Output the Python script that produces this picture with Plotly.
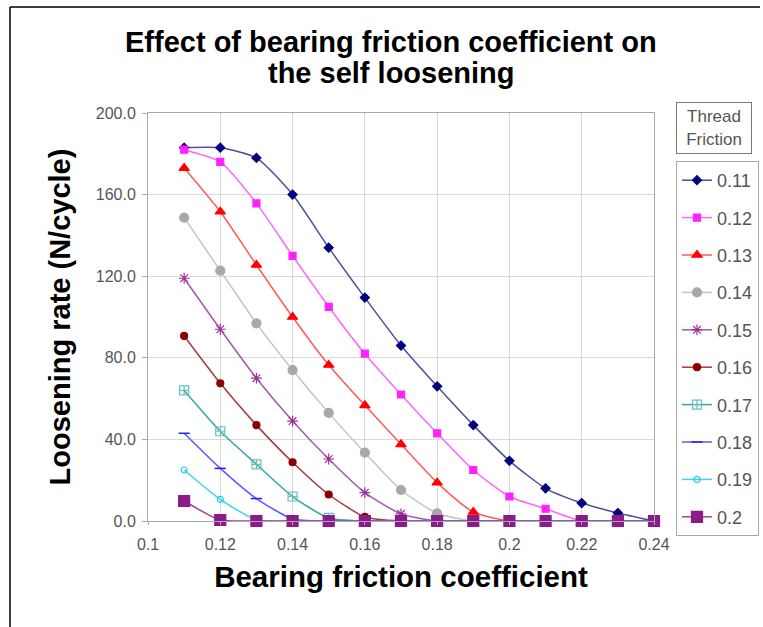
import plotly.graph_objects as go

bearing = [0.11, 0.12, 0.13, 0.14, 0.15, 0.16, 0.17, 0.18, 0.19, 0.20, 0.21, 0.22, 0.23, 0.24]

thread_labels = ["0.11", "0.12", "0.13", "0.14", "0.15", "0.16", "0.17", "0.18", "0.19", "0.2"]

s011 = [183, 183, 178, 160, 134, 109.5, 86, 66, 47, 29.5, 16, 8.8, 3.9, 0]
s012 = [182, 176, 155.7, 130, 105, 82, 62, 43, 25, 12, 6, 0, 0, 0]
s013 = [173, 151.6, 125.5, 100, 76.5, 56.7, 37.6, 18.8, 4.4, 0, 0, 0, 0, 0]
s014 = [148.7, 122.7, 96.9, 74, 53, 33.5, 15.2, 3.8, 0, 0, 0, 0, 0, 0]
s015 = [119, 94, 70, 49, 30.4, 13.9, 3.5, 0, 0, 0, 0, 0, 0, 0]
s016 = [90.7, 67.5, 47, 28.8, 13, 2, 0, 0, 0, 0, 0, 0, 0, 0]
s017 = [64, 44, 27.8, 12, 1.5, 0, 0, 0, 0, 0, 0, 0, 0, 0]
s018 = [43, 25.8, 11, 1, 0, 0, 0, 0, 0, 0, 0, 0, 0, 0]
s019 = [25, 10.6, 0.5, 0, 0, 0, 0, 0, 0, 0, 0, 0, 0, 0]
s020 = [9.8, 0.5, 0, 0, 0, 0, 0, 0, 0, 0, 0, 0, 0, 0]

series = [s011, s012, s013, s014, s015, s016, s017, s018, s019, s020]

line_colors = ["#4e4e9a", "#ff66ff", "#ff5a5a", "#c4c4c4", "#a657a6",
               "#a33a3a", "#3aa6a0", "#5a5aff", "#3cd2f0", "#a040a0"]
marker_colors = ["#000080", "#ff22ff", "#ff0000", "#a8a8a8", "#993399",
                 "#8b0000", "#66c0c0", "#2020ee", "#22c8ee", "#8b1a8b"]
symbols = ["diamond", "square", "triangle-up", "circle", "asterisk-open",
           "circle", "square-cross-open", "line-ew-open", "circle-open", "square"]
sizes = [7, 7, 9, 9, 9, 7, 9, 8, 6, 11]

fig = go.Figure()
for i, (lab, ys) in enumerate(zip(thread_labels, series)):
    fig.add_trace(go.Scatter(
        x=bearing, y=ys, name=lab, mode="lines+markers",
        line=dict(color=line_colors[i], width=1.5, shape="spline", smoothing=0.6),
        marker=dict(symbol=symbols[i], size=sizes[i], color=marker_colors[i],
                    line=dict(color=marker_colors[i], width=1.5 if i == 7 else 1.2)),
        cliponaxis=False, legendgroup=lab,
    ))

L, R, T, B = 148, 654, 113, 521
W, H = 763, 627
pw, ph = R - L, B - T

def px(x):
    return (x - L) / pw

def py(y):
    return (B - y) / ph

fig.update_layout(
    width=W, height=H,
    margin=dict(l=L, r=W - R, t=T, b=H - B, autoexpand=False),
    paper_bgcolor="white", plot_bgcolor="white",
    font=dict(family="Liberation Sans, Arial, sans-serif", color="#555555"),
    showlegend=True,
    legend=dict(x=px(676), xanchor="left", y=py(161), yanchor="top",
                bordercolor="#aaaaaa", borderwidth=1, bgcolor="white",
                font=dict(size=18, color="#555555"),
                tracegroupgap=11, traceorder="grouped",
                itemwidth=30),
)

title_lines = ["Effect of bearing friction coefficient on", "the self loosening"]
for txt, yy in zip(title_lines, [42, 73]):
    fig.add_annotation(text="<b>" + txt + "</b>", xref="paper", yref="paper",
                       x=px(391), y=py(yy), xanchor="center", yanchor="middle",
                       showarrow=False, font=dict(size=29, color="#000000"))

fig.update_xaxes(range=[0.1, 0.24], tickvals=[0.1, 0.12, 0.14, 0.16, 0.18, 0.2, 0.22, 0.24],
                 ticktext=["0.1", "0.12", "0.14", "0.16", "0.18", "0.2", "0.22", "0.24"],
                 showgrid=True, gridcolor="#d9d9d9", gridwidth=1,
                 showline=True, linecolor="#aaaaaa", mirror=True,
                 ticks="outside", ticklen=3, tickcolor="#aaaaaa",
                 ticklabelstandoff=6,
                 tickfont=dict(size=16, color="#555555"), zeroline=False,
                 title=dict(text="<b>Bearing friction coefficient</b>",
                            font=dict(size=29.5, color="#000000"), standoff=14))
fig.update_yaxes(range=[0, 200], tickvals=[0, 40, 80, 120, 160, 200],
                 ticktext=["0.0", "40.0", "80.0", "120.0", "160.0", "200.0"],
                 showgrid=True, gridcolor="#d9d9d9", gridwidth=1,
                 showline=True, linecolor="#aaaaaa", mirror=True,
                 ticks="outside", ticklen=5, tickcolor="#aaaaaa",
                 ticklabelstandoff=3,
                 tickfont=dict(size=16, color="#555555"), zeroline=False,
                 title=dict(text="<b>Loosening rate (N/cycle)</b>",
                            font=dict(size=29, color="#000000"), standoff=16))

fig.add_annotation(text="Thread<br>Friction", xref="paper", yref="paper",
                   x=px(714), y=py(128), xanchor="center", yanchor="middle",
                   showarrow=False, font=dict(size=17, color="#555555"),
                   bordercolor="#777777", borderwidth=1, bgcolor="white",
                   width=72, height=48)

fig.add_shape(type="line", xref="paper", yref="paper",
              x0=px(10), x1=px(760), y0=py(7), y1=py(7),
              line=dict(color="#000000", width=1.5))
fig.add_shape(type="line", xref="paper", yref="paper",
              x0=px(10), x1=px(10), y0=py(7), y1=py(627),
              line=dict(color="#000000", width=1.5))

fig.write_html("out.html")
